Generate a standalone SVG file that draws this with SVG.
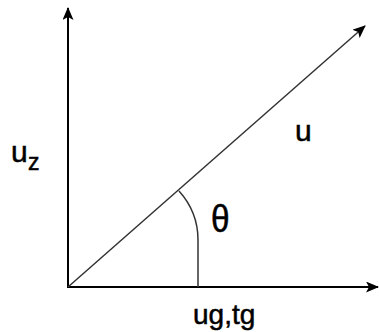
<svg xmlns="http://www.w3.org/2000/svg" width="379" height="332" viewBox="0 0 379 332">
<style>
.ax{stroke:#000;stroke-width:2;fill:none}
.thin{stroke:#333;stroke-width:1.5;fill:none}
.lbl{font-family:"Liberation Sans",Arial,sans-serif;fill:#000;stroke:#000;stroke-width:0.5}
</style>
<defs>
<marker id="ah" viewBox="0 0 13 11" refX="12" refY="5.5" markerWidth="13" markerHeight="11" markerUnits="userSpaceOnUse" orient="auto">
<path d="M0,0 L13,5.5 L0,11 L3,5.5 Z" fill="#000"/>
</marker>
</defs>
<rect width="379" height="332" fill="#fff"/>
<g id="connectors">
<line class="ax" x1="68" y1="287" x2="68" y2="8" marker-end="url(#ah)"/>
<line class="ax" x1="67" y1="287" x2="378" y2="287" marker-end="url(#ah)"/>
<line class="thin" x1="68" y1="287" x2="365" y2="26" marker-end="url(#ah)"/>
<path class="thin" d="M179,191 Q198,212 198,240 L198,287"/>
</g>
<g id="label-uz">
<text class="lbl" x="11" y="162" font-size="30">u</text>
<text class="lbl" x="28" y="170" font-size="23">z</text>
</g>
<g id="label-u">
<text class="lbl" x="295" y="141" font-size="30">u</text>
</g>
<g id="label-theta">
<text class="lbl" transform="translate(211,232) scale(0.88,1)" font-size="38">θ</text>
</g>
<g id="label-ugtg">
<text class="lbl" x="193" y="324" font-size="28">ug,tg</text>
</g>
</svg>
